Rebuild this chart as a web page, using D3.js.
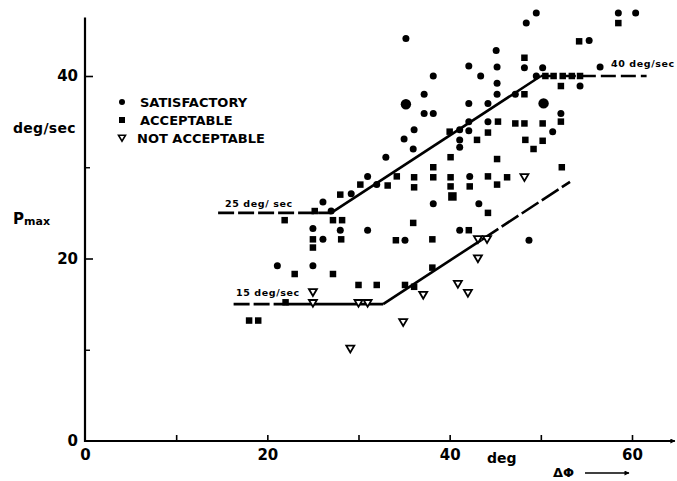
<!DOCTYPE html>
<html>
<head>
<meta charset="utf-8">
<script src="https://cdn.jsdelivr.net/npm/d3@7"></script>
<style>
body { margin: 0; background: #fff; }
svg text { font-family: "DejaVu Sans", sans-serif; font-weight: bold; fill: #000; }
</style>
</head>
<body>
<svg></svg>
<script>

// roll angle (deg) vs. max roll rate (deg/sec)
var satisfactory = [
    [35.2,44.1],[45.1,42.8],[48.4,45.8],[49.5,46.9],[58.5,46.9],[60.4,46.9],[55.3,43.9],
    [38.2,40.0],[42.1,41.1],[43.4,40.0],[45.2,41.0],[45.2,39.2],[45.2,38.0],[48.2,40.9],
    [50.2,40.9],[49.5,40.0],[52.2,35.9],[54.3,38.9],[56.5,41.0],[47.2,38.0],[37.2,38.0],
    [37.2,35.9],[38.2,35.9],[42.1,37.0],[44.2,37.0],[42.1,35.0],[44.2,35.0],[41.1,34.1],
    [42.1,34.0],[41.1,33.0],[41.1,32.2],[36.1,34.1],[35.0,33.1],[36.0,32.0],[33.0,31.1],
    [31.0,29.0],[29.2,27.1],[32.0,28.1],[42.2,29.0],[38.2,26.0],[43.2,26.0],[31.0,23.1],
    [41.1,23.1],[35.1,22.0],[48.7,22.0],[51.3,33.9],[26.1,26.2],[27.0,25.2],[25.0,23.3],
    [28.0,23.1],[26.1,22.1],[21.1,19.2],[25.0,19.2]
];
var satisfactoryLarge = [[35.2,36.9],[50.3,37.0]];

var acceptable = [
    [58.5,45.8],[54.2,43.8],[48.2,42.0],[50.5,40.0],[51.4,40.0],[52.4,40.0],[53.4,40.0],
    [54.3,40.0],[52.2,38.9],[48.2,38.0],[52.2,35.0],[45.3,35.0],[47.2,34.8],[48.2,34.8],
    [50.2,34.8],[40.0,33.9],[44.2,33.8],[43.0,33.0],[48.3,33.0],[50.2,32.9],[49.2,32.0],
    [45.2,30.9],[52.3,30.0],[46.3,28.9],[45.2,28.1],[44.2,29.0],[44.2,25.0],[30.2,28.1],
    [33.2,28.0],[34.2,29.0],[36.1,28.9],[36.1,27.8],[38.2,30.0],[38.2,28.9],[40.1,31.1],
    [40.1,28.9],[40.1,27.9],[42.2,27.9],[36.0,23.9],[42.1,23.1],[34.1,22.0],[38.1,22.1],
    [25.2,25.2],[21.9,24.2],[28.0,27.0],[27.2,24.2],[28.2,24.2],[25.0,22.1],[28.1,22.1],
    [25.0,21.2],[23.0,18.3],[27.2,18.3],[22.0,15.2],[18.0,13.2],[19.0,13.2],[30.0,17.1],
    [32.0,17.1],[35.1,17.1],[36.1,16.9],[38.1,19.0]
];
var acceptableLarge = [[40.3,26.8]];

var notAcceptable = [
    [48.2,28.9],[43.1,22.1],[44.1,22.1],[43.1,20.0],[40.9,17.2],[42.0,16.2],[37.1,16.0],
    [34.9,13.0],[29.1,10.1],[30.0,15.1],[31.0,15.1],[25.0,15.1],[25.0,16.3]
];

// boundary lines (break points)
var upperBoundary = [[14.6,25],[27,25],[50,40],[61.6,40]];
var lowerBoundary = [[16.3,15],[22,15],[32.7,15],[43.5,22.05],[53.2,28.4]];

var legendLabels = ["SATISFACTORY", "ACCEPTABLE", "NOT ACCEPTABLE"];
var xTickLabels = [0, 20, 40, 60];
var yTickLabels = [0, 20, 40];

var screen = {width: 677, height: 481};

var svg = d3.select("svg")
    .attr("width", screen.width)
    .attr("height", screen.height);

var xScale = d3.scaleLinear().domain([0, 60]).range([85, 632]);
var yScale = d3.scaleLinear().domain([0, 40]).range([441, 76]);

// x axis
var xAxis = d3.axisBottom(xScale)
    .tickValues([0, 10, 20, 30, 40, 50, 60])
    .tickSizeInner(-6)
    .tickSizeOuter(0)
    .tickPadding(8)
    .tickFormat(function(d){ return xTickLabels.indexOf(d) >= 0 ? d : ""; });

var gx = svg.append("g")
    .attr("transform", "translate(0," + yScale(0) + ")")
    .call(xAxis);
gx.select(".domain").remove();
gx.selectAll(".tick line").attr("stroke", "#000").attr("stroke-width", 1.6);
gx.selectAll(".tick").filter(function(d){ return d === 0; }).select("line").remove();
gx.selectAll("text").style("font-size", "15px").attr("fill", "#000");

// y axis, major and minor ticks
var yAxis = d3.axisLeft(yScale)
    .tickValues(yTickLabels)
    .tickSizeInner(-8)
    .tickSizeOuter(0)
    .tickPadding(7);
var gy = svg.append("g")
    .attr("transform", "translate(" + xScale(0) + ",0)")
    .call(yAxis);
gy.select(".domain").remove();
gy.selectAll(".tick line").attr("stroke", "#000").attr("stroke-width", 1.6);
gy.selectAll(".tick").filter(function(d){ return d === 0; }).select("line").remove();
gy.selectAll("text").style("font-size", "15px").attr("fill", "#000");

var yMinor = d3.axisLeft(yScale).tickValues([10, 30]).tickSizeInner(-5).tickSizeOuter(0).tickFormat("");
var gym = svg.append("g")
    .attr("transform", "translate(" + xScale(0) + ",0)")
    .call(yMinor);
gym.select(".domain").remove();
gym.selectAll(".tick line").attr("stroke", "#000").attr("stroke-width", 1.4);

// axis lines
svg.append("defs").append("marker")
    .attr("id", "arrow")
    .attr("viewBox", "0 0 10 10")
    .attr("refX", 9).attr("refY", 5)
    .attr("markerWidth", 7).attr("markerHeight", 5)
    .attr("markerUnits", "userSpaceOnUse")
    .attr("orient", "auto")
    .append("path")
    .attr("d", "M0,0L10,5L0,10Z")
    .attr("fill", "#000");

svg.append("line")
    .attr("x1", xScale(0)).attr("y1", yScale(0))
    .attr("x2", xScale(64.7)).attr("y2", yScale(0))
    .attr("stroke", "#000").attr("stroke-width", 2.2)
    .attr("marker-end", "url(#arrow)");

svg.append("line")
    .attr("x1", xScale(0)).attr("y1", yScale(0) + 1)
    .attr("x2", xScale(0)).attr("y2", yScale(46.4))
    .attr("stroke", "#000").attr("stroke-width", 2.2);

// axis titles
svg.append("text").attr("x", 13).attr("y", 133).style("font-size", "14px")
    .style("letter-spacing", "0.3px").text("deg/sec");
var pm = svg.append("text").attr("x", 13).attr("y", 224);
pm.append("tspan").style("font-size", "15px").text("P");
pm.append("tspan").style("font-size", "11px").attr("dy", 1).text("max");

svg.append("text").attr("x", 487).attr("y", 463).style("font-size", "14px").text("deg");
svg.append("text").attr("x", 553).attr("y", 477).style("font-size", "13px").text("ΔΦ");
svg.append("line")
    .attr("x1", 585).attr("y1", 473).attr("x2", 629).attr("y2", 473)
    .attr("stroke", "#000").attr("stroke-width", 1.6)
    .attr("marker-end", "url(#arrow)");

// boundary lines
var lineGen = d3.line()
    .x(function(d){ return xScale(d[0]); })
    .y(function(d){ return yScale(d[1]); });

var drawBoundary = function(pts, dashes)
{
    for (var i = 0; i < pts.length - 1; i++) {
        svg.append("path")
            .attr("d", lineGen([pts[i], pts[i + 1]]))
            .attr("fill", "none")
            .attr("stroke", "#000")
            .attr("stroke-width", 2.6)
            .attr("stroke-dasharray", dashes[i]);
    }
}
drawBoundary(upperBoundary, ["16,4", null, "15,5"]);
drawBoundary(lowerBoundary, ["16,4", null, null, "20,4"]);

var smallLabel = function(x, y, txt)
{
    svg.append("text").attr("x", x).attr("y", y)
        .style("font-size", "9.5px").style("letter-spacing", "0.6px").text(txt);
}
smallLabel(225, 207, "25 deg/ sec");
smallLabel(236, 296, "15 deg/sec");
smallLabel(611, 67, "40 deg/sec");

// markers
var triPath = function(s)
{
    return "M" + (-s) + "," + (-s * 0.8) + "L" + s + "," + (-s * 0.8) + "L0," + (s * 0.9) + "Z";
}

var drawCircles = function(data, r)
{
    svg.append("g").selectAll("circle")
        .data(data).enter().append("circle")
        .attr("cx", function(d){ return xScale(d[0]); })
        .attr("cy", function(d){ return yScale(d[1]); })
        .attr("r", r)
        .attr("fill", "#000");
}
var drawSquares = function(data, s)
{
    svg.append("g").selectAll("rect")
        .data(data).enter().append("rect")
        .attr("x", function(d){ return xScale(d[0]) - s / 2; })
        .attr("y", function(d){ return yScale(d[1]) - s / 2; })
        .attr("width", s).attr("height", s)
        .attr("fill", "#000");
}

drawCircles(satisfactory, 3.5);
drawCircles(satisfactoryLarge, 5.2);
drawSquares(acceptable, 6.5);
drawSquares(acceptableLarge, 8.5);

svg.append("g").selectAll("path")
    .data(notAcceptable).enter().append("path")
    .attr("transform", function(d){ return "translate(" + xScale(d[0]) + "," + yScale(d[1]) + ")"; })
    .attr("d", triPath(4))
    .attr("fill", "#fff")
    .attr("stroke", "#000")
    .attr("stroke-width", 1.8);

// legend
var legend = svg.append("g");
legend.append("circle").attr("cx", 122).attr("cy", 102).attr("r", 3).attr("fill", "#000");
legend.append("rect").attr("x", 119).attr("y", 117).attr("width", 6).attr("height", 6).attr("fill", "#000");
legend.append("path").attr("transform", "translate(122,138)").attr("d", triPath(3.5))
    .attr("fill", "#fff").attr("stroke", "#000").attr("stroke-width", 1.6);
legend.selectAll("text")
    .data(legendLabels).enter().append("text")
    .attr("x", function(d, i){ return i === 2 ? 137 : 140; })
    .attr("y", function(d, i){ return 107 + i * 18; })
    .style("font-size", "13px")
    .text(function(d){ return d; });

</script>
</body>
</html>
